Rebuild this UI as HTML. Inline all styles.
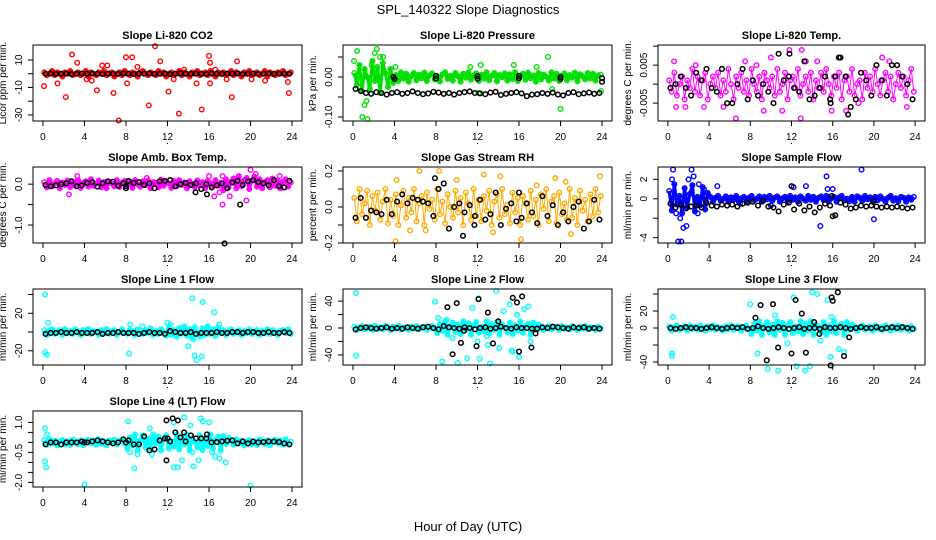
<!DOCTYPE html>
<html><head><meta charset="utf-8">
<style>
html,body{margin:0;padding:0;background:#fff;}
svg{display:block;font-family:"Liberation Sans",sans-serif;}
</style></head>
<body>
<svg id="chart" width="936" height="540" viewBox="0 0 936 540" xmlns="http://www.w3.org/2000/svg">
<text x="468" y="14" text-anchor="middle" font-size="13">SPL_140322  Slope Diagnostics</text>
<text x="468" y="531" text-anchor="middle" font-size="13">Hour of Day (UTC)</text>
</svg>
<script>
// ---------- data ----------
const xTicks=[0,4,8,12,16,20,24];

const co2Band=[1,-1,0,2,-1,1,0,-2,1,0,2,-1,0,1,-1,0,2,-2,1,0,-1,1,0,2,-1,0,1,-2,0,1,-1,2,0,-1,1,0,-2,1,2,0,-1,1,0,-1,2,0,1,-2,0,1,-1,0,2,-1,1,0,-2,1,0,2,-1,0,1,-1,2,0,-2,1,0,1,-1,0,2,-1,1,0,-2,1,0,2,-1,0,1,-1,0,2,-2,1,0,-1,1,0,2,-1,0,1];
const co2OutH=[0.1,1.4,2.2,2.8,3.3,4.2,4.7,5.2,5.7,6.2,6.8,7.3,8.0,8.1,8.6,9.1,10.2,10.8,11.3,12.1,12.6,13.1,13.6,14.8,15.3,16.0,16.1,16.1,16.6,17.7,18.2,18.7,20.1,21.4,23.6,23.7];
const co2OutV=[-9,-7,-17,14,8,-4,-5,-12,6,6,-14,-34,12,-7,12,5,-23,20,9,-13,-4,-29,3,-7,-26,13,8,-7,3,-4,-17,9,-4,-5,-6,-14];
const co2Black=[0,0.3,-0.2,0,0.2,-0.3,0,0.1,-0.1,0.2,0,-0.2,0.1,0,-0.1,0.3,0,-0.2,0.1,0,0.2,-0.1,0,0.1,-0.3,0,0.2,0,-0.1,0.1,0,-0.2,0.2,0,-0.1,0.1,0,0.3,-0.2,0,0.1,-0.1,0,0.2,-0.1,0,0.1,0];
const co2BlkH=[];const co2BlkV=[];

const presBand=[0.01,-0.02,0.03,-0.035,0.02,0,-0.03,0.04,-0.01,0.025,-0.04,0.035,0.01,-0.025,0.02,-0.015,
0.005,-0.01,0.012,-0.004,0.008,-0.012,0.002,0.01,-0.008,0.006,-0.003,0.011,-0.01,0.004,0.009,-0.006,0.001,-0.011,0.007,0.012,-0.005,0.003,-0.009,0.01,0.002,-0.012,0.008,-0.002,0.011,-0.007,0.004,0.009,-0.01,0.006,-0.004,0.012,-0.008,0.003,0.01,-0.011,0.005,-0.001,0.009,-0.009,0.007,-0.005,0.012,-0.01,0.002,0.008,-0.007,0.011,-0.003,0.004,-0.012,0.01,-0.006,0.006,0.001,-0.009,0.012,-0.004,0.008,-0.01,0.003,0.009,-0.008,0.005,-0.002,0.011,-0.011,0.007,0.002,-0.006,0.01,-0.004,0.008,-0.009,0.004,0.006];
const presOutH=[0.1,0.4,0.9,1.1,1.3,1.4,2.3,1.8,2.6,2.1,2.9,4.1,11.3,12.1,12.3,15.5,17.7,18.8,19.2,20.0,23.9];
const presOutV=[0.04,0.065,-0.1,-0.07,-0.06,-0.105,0.07,0.03,0.05,0.06,0.05,0.025,0.025,-0.04,0.03,0.03,0.025,0.05,-0.03,-0.08,-0.035];
const presBlack=[-0.03,-0.035,-0.04,-0.042,-0.038,-0.04,-0.044,-0.04,-0.038,-0.042,-0.04,-0.036,-0.04,-0.043,-0.041,-0.037,-0.039,-0.042,-0.04,-0.044,-0.04,-0.038,-0.036,-0.04,-0.041,-0.043,-0.039,-0.037,-0.045,-0.042,-0.04,-0.038,-0.041,-0.048,-0.044,-0.043,-0.04,-0.042,-0.039,-0.044,-0.046,-0.04,-0.038,-0.043,-0.041,-0.039,-0.042,-0.04];
const presBlkH=[3.9,4,8,8,12,12,16,16,20,20,24,24];
const presBlkV=[0,-0.005,0.003,-0.004,0.002,-0.004,0.003,-0.003,0,-0.005,-0.003,-0.012];

const tempBand=[0.001,-0.002,0.003,-0.003,0,0.002,-0.004,0.001,-0.001,0.004,-0.002,0.002,-0.003,0.001,0.003,-0.004,0,0.002,-0.001,0.003,-0.003,0.001,-0.002,0.004,0,-0.004,0.002,-0.001,0.003,-0.002,0.001,-0.003,0.004,0,-0.002,0.002,-0.004,0.003,0.001,-0.001,0.002,-0.003,0.004,-0.002,0,0.003,-0.004,0.001,0.002,-0.001,0.004,-0.003,0,0.002,-0.002,0.003,-0.004,0.001,-0.001,0.003,-0.002,0.004,0,-0.003,0.002,-0.001,0.003,-0.004,0.001,0.002,-0.002,0.004,-0.003,0,0.001,-0.004,0.003,-0.001,0.002,-0.002,0.004,0,-0.003,0.001,0.003,-0.002,0.002,-0.004,0,0.003,-0.001,0.002,-0.003,0.001,0.004,-0.002];
const tempOutH=[11.8,13.0,6.6,12.9,10.0,20.8,9.3,11.1,15.9,17.3,0.6,7.5,13.4,14.5,21.5,0.8,1.7,3.5,5.4,23.2,2.7,18.5,8.6];
const tempOutV=[0.009,0.009,-0.009,-0.009,0.007,0.007,-0.007,-0.007,-0.007,-0.007,0.006,0.006,0.006,0.006,0.006,-0.006,-0.006,-0.006,-0.006,-0.006,0.005,-0.005,0.005];
const tempBlack=[-0.001,0,0.002,-0.001,-0.003,0.003,0.001,0.004,-0.001,-0.002,0.004,-0.005,-0.005,0,0.004,-0.004,0.001,-0.003,0,-0.002,-0.005,0.008,0.001,0.002,-0.001,-0.002,0.006,-0.004,-0.003,-0.001,0.002,-0.004,0.002,0.007,0.002,-0.006,-0.004,0.003,0.001,-0.003,0.005,0.001,-0.003,0.005,0.005,0.002,0,-0.004];
const tempBlkH=[11.8,15.8,16.6,17.5];const tempBlkV=[0.008,-0.005,0.007,-0.008];

const ambBand=[0.05,-0.08,0.1,-0.05,0.02,0.08,-0.1,0.04,-0.02,0.09,-0.07,0.06,-0.03,0.1,-0.09,0.03,0.07,-0.06,0.12,-0.04,0.01,0.09,-0.08,0.05,-0.1,0.06,0.02,-0.05,0.1,-0.07,0.04,0.08,-0.03,0.06,-0.09,0.1,0,-0.06,0.07,-0.02,0.09,-0.1,0.05,0.03,-0.08,0.11,-0.04,0.06,0.02,-0.09,0.08,-0.05,0.1,-0.02,0.04,-0.1,0.07,0.01,-0.07,0.09,-0.03,0.05,-0.1,0.08,0.02,-0.06,0.1,-0.04,0.03,-0.15,0.12,-0.08,0.06,0.14,-0.1,0.2,-0.05,0.1,0.15,-0.12,0.08,0.18,-0.06,0.12,-0.1,0.05,0.1,-0.08,0.14,-0.04,0.08,-0.1,0.06,0.12,-0.06,0.04];
const ambOutH=[3.3,2.5,10.0,16.0,17.3,17.3,18.0,19.6,20.0,20.5,16.5,17.0,22.8];
const ambOutV=[0.2,-0.25,0.15,0.2,0.2,-0.5,-0.3,-0.4,0.35,0.25,-0.3,-0.2,0.2];
const ambBlack=[-0.02,-0.05,-0.03,0,0.02,0.07,-0.05,-0.03,0.03,0.05,-0.06,0.02,0.07,0.06,-0.04,0.02,0.08,0.03,0.05,-0.02,0.02,-0.1,0.07,0.08,0.1,-0.05,0,0.03,-0.02,0.02,-0.12,0,-0.08,-0.03,0.02,-0.1,0.04,0.08,-0.02,0.07,0.1,0.05,0.02,-0.03,0.1,-0.05,-0.08,0.08];
const ambBlkH=[17.5,19.0,15.8,14.7,8.0,8.0];const ambBlkV=[-1.45,-0.5,-0.25,-0.2,-0.05,-0.1];

const rhBand=[0.05,-0.08,0.1,-0.04,0.02,0.09,-0.1,0.06,-0.02,0.08,-0.07,0.03,0.1,-0.09,0.04,-0.05,0.07,-0.1,0.01,0.09,-0.06,0.05,-0.03,0.1,-0.08,0.02,0.06,-0.1,0.08,-0.01,0.04,-0.07,0.1,-0.04,0.03,-0.09,0.07,0,-0.06,0.09,-0.03,0.05,-0.1,0.08,0.02,-0.07,0.1,-0.05,0.04,-0.08,0.06,-0.02,0.09,-0.1,0.03,0.07,-0.06,0.1,-0.04,0.01,-0.09,0.08,-0.03,0.05,-0.1,0.06,0.02,-0.07,0.09,-0.05,0.04,-0.1,0.07,-0.01,0.1,-0.08,0.03,0.06,-0.09,0.08,-0.04,0.02,-0.07,0.1,-0.06,0.05,-0.1,0.09,-0.02,0.04,-0.08,0.07,-0.05,0.1,-0.03,0.06];
const rhOutH=[4.1,4.2,6.4,7.0,8.3,12.6,14.2,16.2,17.7,19.5,20.5,23.8,5.5,10.0,13.5,21.0];
const rhOutV=[-0.19,0.15,0.2,-0.13,0.2,0.18,0.17,-0.18,0.12,0.16,0.14,0.17,-0.13,0.15,-0.14,-0.15];
const rhBlack=[-0.06,0.05,-0.06,-0.02,-0.03,-0.04,0.04,-0.04,0.03,0.07,0.02,0.05,0.04,0.03,0.02,-0.05,0.1,0.13,-0.12,0,0.02,-0.03,0.01,-0.05,0.04,-0.07,-0.04,0.08,-0.1,-0.01,0.02,-0.08,-0.06,0.02,-0.03,-0.09,0.06,-0.05,0.01,-0.1,-0.03,-0.08,0,0.03,-0.12,-0.08,0.04,-0.07];
const rhBlkH=[10.6,7.9,16.0,11.7];const rhBlkV=[-0.16,0.16,0.08,-0.1];

const flowBand=[0.8,-1.2,1.5,-0.6,0.3,-1.5,1.1,-0.9,0.5,1.4,-1.3,0.2,-0.7,1.2,-1.1,0.6,
0.2,-0.3,0.1,0.3,-0.2,0,0.25,-0.3,0.15,-0.1,0.3,-0.25,0.05,0.2,-0.3,0.1,0.3,-0.15,0,0.25,-0.3,0.2,-0.05,0.3,-0.2,0.1,0.25,-0.3,0.05,0.2,-0.25,0.3,-0.1,0.15,-0.3,0.25,0,-0.2,0.3,-0.1,0.2,-0.3,0.1,0.25,-0.15,0.3,-0.25,0.05,0.2,-0.3,0.15,0.3,-0.1,0,-0.25,0.2,-0.3,0.25,0.1,-0.2,0.3,-0.05,0.15,-0.3,0.2,-0.15,0.25,0,-0.3,0.1,0.3,-0.2,0.05,-0.25,0.2,0.1,-0.3,0.15,-0.1,0.2];
const flowOutH=[0.4,0.5,1.0,1.3,1.5,1.8,2.3,2.5,3.0,2.9,4.8,7.0,12.2,13.4,15.4,15.5,14.8,16.0,18.8,20.0,10.0,2.0,1.2,0.8,3.5];
const flowOutV=[2,3,-4.4,-4.4,-3,-2.8,3,2.3,1.5,-1.5,1.3,-0.5,1.2,1.3,2.3,1,-2.8,1,3,-2.1,-0.7,2,-2,-1.5,1];
const flowBlack=[-0.5,-0.9,-0.6,-1,-0.8,-0.7,-0.9,-0.4,-0.7,-0.8,-0.6,-0.7,-0.6,-0.8,-0.5,-0.4,-0.3,-0.7,-0.2,-0.8,-0.9,-1.3,-0.6,-0.4,-1.1,-0.5,-1.2,-0.8,-1.4,-0.9,-0.5,-0.7,-1.7,-0.4,-0.6,-1,-0.9,-0.7,-0.8,-0.7,-0.8,-0.9,-0.8,-0.9,-0.8,-0.9,-1,-0.9];
const flowBlkH=[12.0,16.0,15.9,20.0];const flowBlkV=[1.3,-1.8,0.3,-0.2];

const l1Band=[2,-3,1,3,-2,0,2,-3,3,-1,1,-2,3,0,-3,2,-1,3,-2,1,0,-3,2,-1,3,-2,1,2,-3,0,3,-1,-2,2,1,-3,3,0,-2,2,-1,4,-3,1,-2,3,0,-4,5,-3,2,-5,4,-2,6,-4,3,-6,5,-1,-5,4,-3,6,-2,3,-4,5,-1,2,-3,1,3,-2,0,2,-3,1,-1,3,-2,0,2,-3,1,-1,3,-2,2,0,-3,1,2,-1,3,-2];
const l1OutH=[0.2,0.2,0.4,0.5,8.3,8.4,9.6,12.0,14.4,14.6,14.8,15.3,15.4,14.0,16.5,17.0,14.5,13.5,12.3];
const l1OutV=[40,-22,-24,10,-23,8,6,10,36,-25,-30,-26,32,-15,21,8,-8,5,8];
const l1Black=[-2,-1,-1,0,-1,-1,0,-1,-1,-1,0,-2,-1,-1,0,-1,-1,-1,-2,-1,0,-1,-1,-2,1,0,-1,-1,0,-2,-1,-1,-1,0,-1,-1,0,0,-1,0,0,-1,-1,0,-1,-1,0,-1];
const l1BlkH=[];const l1BlkV=[];

const l2Band=[2,-3,1,3,-2,0,2,-3,3,-1,1,-2,3,0,-3,2,-1,3,-2,1,0,-3,2,-1,3,-2,1,2,-3,0,3,-1,
-8,6,-4,10,-10,3,8,-6,5,-9,10,-2,7,-10,4,9,-7,2,-5,10,-8,6,-3,9,-10,5,1,-6,8,-9,4,-4,10,-7,3,6,-10,8,-2,5,
2,-3,1,3,-2,0,2,-3,3,-1,1,-2,3,0,-3,2,-1,3,-2,1,0,-3,2,-1];
const l2OutH=[0.3,0.3,7.9,8.6,9.0,10.1,11.0,12.1,12.2,13.2,13.8,14.1,15.1,15.3,15.4,16.0,16.9,17.1,12.0,11.5,13.0,14.5,16.5,8.2,9.6,12.9,15.8];
const l2OutV=[52,-41,39,-50,12,-52,-45,44,-46,-53,55,-30,35,-34,-35,-43,32,-20,-20,30,-25,25,28,15,-15,-12,20];
const l2Black=[-2,0,1,0,-1,0,1,-1,0,-1,1,0,-1,1,2,0,-2,3,1,0,-1,1,0,-2,0,1,-1,0,2,0,-1,1,0,0,-1,-1,1,0,2,1,0,-1,1,0,1,-1,0,-1];
const l2BlkH=[9.1,10.0,10.4,9.6,11.9,12.1,13.0,13.5,14.0,15.4,15.8,16.0,16.3,17.2,17.6,10.7];
const l2BlkV=[31,37,-22,-39,-27,43,23,-23,10,45,38,-35,47,-29,-8,-4];

const l3Band=[2,-3,1,3,-2,0,2,-3,3,-1,1,-2,3,0,-3,2,-1,3,-2,1,0,-3,2,-1,3,-2,1,2,-3,0,3,-1,
-7,5,-3,8,-8,3,7,-5,4,-8,8,-2,6,-8,3,7,-6,2,-4,8,-7,5,-3,8,-8,4,1,-5,7,-8,3,-4,8,-6,3,5,-8,7,-2,4,
2,-3,1,3,-2,0,2,-3,3,-1,1,-2,3,0,-3,2,-1,3,-2,1,0,-3,2,-1];
const l3OutH=[0.4,0.4,0.5,8.0,8.7,10.7,9.7,10.4,12.2,12.5,13.3,13.8,14.0,14.5,15.8,15.5,15.9,16.6,17.1,11.6,14.8];
const l3OutV=[-30,-33,13,28,-30,-50,-48,15,36,-45,-50,-45,42,40,-34,33,13,-25,-28,-18,-15];
const l3Black=[0,-1,0,1,0,0,-1,0,1,0,-1,0,1,0,1,-1,0,2,0,-1,0,1,0,-1,0,1,-1,0,0,-1,1,0,0,1,0,-1,0,1,0,0,1,-1,0,1,0,1,0,-1];
const l3BlkH=[9.0,8.5,10.2,9.6,10.7,12.0,12.4,13.0,13.4,14.2,14.7,15.8,15.9,16.0,16.5,17.1,17.6];
const l3BlkV=[27,12,28,-38,-23,-30,33,17,-29,7,-7,-44,36,32,42,-33,-11];

const l4Band=[0.1,-0.12,0.15,-0.05,0.08,-0.15,0.02,0.12,-0.1,0.05,-0.13,0.14,0,-0.08,0.1,-0.14,0.06,0.13,-0.04,0.09,-0.12,0.15,-0.07,0.03,-0.15,0.11,-0.02,0.13,-0.1,0.07,0.14,-0.06,
-0.3,0.25,-0.15,0.4,-0.4,0.1,0.35,-0.25,0.2,-0.35,0.4,-0.05,0.3,-0.4,0.15,0.35,-0.3,0.05,-0.2,0.4,-0.35,0.25,-0.1,0.38,-0.4,0.2,0.05,-0.25,0.35,-0.38,0.15,-0.18,0.4,-0.3,0.12,0.28,-0.4,0.32,-0.08,0.22,
0.1,-0.12,0.15,-0.05,0.08,-0.15,0.02,0.12,-0.1,0.05,-0.13,0.14,0,-0.08,0.1,-0.14,0.06,0.13,-0.04,0.09,-0.12,0.15,-0.07,0.03];
const l4OutH=[0.2,0.4,0.2,0.3,4.0,8.2,8.4,8.8,9.1,10.3,10.5,12.6,12.6,13.0,13.6,14.2,14.5,14.4,15.0,15.2,15.4,16.0,16.3,16.6,17.0,17.6,20.0,13.4];
const l4OutV=[0.7,0.4,-0.95,-1.25,-2.1,1.05,-0.5,-1.3,-0.6,0.7,-0.6,1.0,-1.25,-1.25,1.25,0.85,-1.2,-0.5,-0.9,1.2,1.05,1.0,-0.5,-0.7,-0.8,-1.0,-2.15,-0.9];
const l4Black=[-0.1,0,0,-0.1,0,0,0,0.05,0,0.05,0.1,0.05,0,-0.05,0,0.15,0.1,-0.1,-0.1,0.3,-0.4,-0.35,0.1,0.2,0.05,0.5,0.25,0.05,0.35,0.2,0.2,0.2,0,0.02,0.05,0.08,0.1,-0.05,0.05,-0.05,0.04,0,0.02,0.05,0.04,0.02,-0.05,-0.1];
const l4BlkH=[11.9,12.5,13.0,11.9,13.6,12.0,15.8,4.0,8.0];
const l4BlkV=[1.1,1.2,1.1,-0.9,0.5,0.2,0.4,0,0];

// ---------- layout ----------
const colL=[33,343,658],colR=[302,612,925],rowT=[45,167,289,411],BOXH=76;
const panels=[
 {name:'co2',title:'Slope Li-820 CO2',yl:'Licor ppm per min.',r:0,c:0,y0:-34.4,y1:20.9,col:'#ff0000',bw:3.2,band:co2Band,oh:co2OutH,ov:co2OutV,blk:co2Black,bh:co2BlkH,bv:co2BlkV,ticks:[-30,-20,-10,0,10],labs:['-30','','-10','','10']},
 {name:'pressure',title:'Slope Li-820 Pressure',yl:'kPa per min.',r:0,c:1,y0:-0.11,y1:0.08,col:'#00e000',bw:3.2,band:presBand,oh:presOutH,ov:presOutV,blk:presBlack,bh:presBlkH,bv:presBlkV,ticks:[-0.1,-0.05,0,0.05],labs:['-0.10','','0.00','']},
 {name:'temp',title:'Slope Li-820 Temp.',yl:'degrees C per min.',r:0,c:2,y0:-0.0097,y1:0.0103,col:'#ff00ff',bw:1,band:tempBand,oh:tempOutH,ov:tempOutV,blk:tempBlack,bh:tempBlkH,bv:tempBlkV,ticks:[-0.005,0,0.005,0.01],labs:['-0.005','','0.005','']},
 {name:'amb-box-temp',title:'Slope Amb. Box Temp.',yl:'degrees C per min.',r:1,c:0,y0:-1.44,y1:0.42,col:'#ff00ff',bw:3.2,band:ambBand,oh:ambOutH,ov:ambOutV,blk:ambBlack,bh:ambBlkH,bv:ambBlkV,ticks:[-1,-0.5,0],labs:['-1.0','','0.0']},
 {name:'gas-rh',title:'Slope Gas Stream RH',yl:'percent per min.',r:1,c:1,y0:-0.2,y1:0.222,col:'#ffaa00',bw:1,band:rhBand,oh:rhOutH,ov:rhOutV,blk:rhBlack,bh:rhBlkH,bv:rhBlkV,ticks:[-0.2,-0.1,0,0.1,0.2],labs:['-0.2','','0.0','','0.2']},
 {name:'sample-flow',title:'Slope Sample Flow',yl:'ml/min per min.',r:1,c:2,y0:-4.55,y1:3.27,col:'#0000ff',bw:3.2,band:flowBand,oh:flowOutH,ov:flowOutV,blk:flowBlack,bh:flowBlkH,bv:flowBlkV,ticks:[-4,-2,0,2],labs:['-4','','0','2']},
 {name:'line1-flow',title:'Slope Line 1 Flow',yl:'ml/min per min.',r:2,c:0,y0:-35.2,y1:45.9,col:'#00ffff',bw:3.2,band:l1Band,oh:l1OutH,ov:l1OutV,blk:l1Black,bh:l1BlkH,bv:l1BlkV,ticks:[-20,0,20,40],labs:['-20','','20','']},
 {name:'line2-flow',title:'Slope Line 2 Flow',yl:'ml/min per min.',r:2,c:1,y0:-55,y1:58,col:'#00ffff',bw:3.2,band:l2Band,oh:l2OutH,ov:l2OutV,blk:l2Black,bh:l2BlkH,bv:l2BlkV,ticks:[-40,-20,0,20,40],labs:['-40','','0','','40']},
 {name:'line3-flow',title:'Slope Line 3 Flow',yl:'ml/min per min.',r:2,c:2,y0:-43.5,y1:45.9,col:'#00ffff',bw:3.2,band:l3Band,oh:l3OutH,ov:l3OutV,blk:l3Black,bh:l3BlkH,bv:l3BlkV,ticks:[-40,-20,0,20,40],labs:['-40','','0','20','']},
 {name:'line4-flow',title:'Slope Line 4 (LT) Flow',yl:'ml/min per min.',r:3,c:0,y0:-2.23,y1:1.57,col:'#00ffff',bw:3.2,band:l4Band,oh:l4OutH,ov:l4OutV,blk:l4Black,bh:l4BlkH,bv:l4BlkV,ticks:[-2,-1.5,-1,-0.5,0,0.5,1],labs:['-2.0','','','-0.5','','','1.0']}
];

const NS='http://www.w3.org/2000/svg';
const svg=document.getElementById('chart');
function mk(tag,attrs,parent){const e=document.createElementNS(NS,tag);for(const k in attrs)e.setAttribute(k,attrs[k]);(parent||svg).appendChild(e);return e;}

panels.forEach(p=>{
  const L=colL[p.c],R=colR[p.c],T=rowT[p.r],B=T+BOXH,W=R-L;
  const pad=W*0.04/1.08;
  const xs=h=>L+pad+(h/24)*(W-2*pad);
  const ys=v=>B-(v-p.y0)/(p.y1-p.y0)*BOXH;
  const g=mk('g',{});
  
  
  const t=mk('text',{x:(L+R)/2,y:T-6,'text-anchor':'middle','font-size':11,'font-weight':'bold'},g);
  t.textContent=p.title;
  
  
  const cx=L-27,cy=(T+B)/2;
  const yl=mk('text',{x:cx,y:cy,'text-anchor':'middle','font-size':10,transform:'rotate(-90 '+cx+' '+cy+')'},g);
  yl.textContent=p.yl;
  
  
  const pts=mk('g',{fill:'none'},g);
  
  
  const n=p.band.length;
  let d='';
  p.band.forEach((v,i)=>{d+=(i?'L':'M')+xs((i+0.5)*24/n).toFixed(1)+' '+ys(v).toFixed(1);});
  const bp=mk('path',{d:d,stroke:p.col,'stroke-width':p.bw,'stroke-linejoin':'round',fill:'none'},pts);
  
  
  p.band.forEach((v,i)=>{const c=mk('circle',{cx:xs((i+0.5)*24/n),cy:ys(v),r:2.3,stroke:p.col,'stroke-width':1.4},pts);
    
    });
  p.oh.forEach((h,i)=>{const c=mk('circle',{cx:xs(h),cy:ys(p.ov[i]),r:2.3,stroke:p.col,'stroke-width':1.4},pts);
    
    });
  const bk=mk('g',{fill:'none'},g);
  
  
  const m=p.blk.length;
  p.blk.forEach((v,i)=>{const c=mk('circle',{cx:xs((i+0.5)*24/m),cy:ys(v),r:2.3,stroke:'#000','stroke-width':1.5},bk);
    
    });
  p.bh.forEach((h,i)=>{const c=mk('circle',{cx:xs(h),cy:ys(p.bv[i]),r:2.3,stroke:'#000','stroke-width':1.5},bk);
    
    });
  const box=mk('rect',{x:L,y:T,width:W,height:BOXH,fill:'none',stroke:'#000','stroke-width':1},g);
  
  
  const xa=mk('g',{},g);
  
  
  mk('line',{x1:xs(0),x2:xs(24),y1:B,y2:B,stroke:'#000'},xa);
  xTicks.forEach(h=>{mk('line',{x1:xs(h),x2:xs(h),y1:B,y2:B+5,stroke:'#000'},xa);
    const tl=mk('text',{x:xs(h),y:B+19,'text-anchor':'middle','font-size':10},xa);tl.textContent=String(h);
    
    });
  mk('rect',{x:xs(12)-0.5,y:B+22,width:1,height:1,fill:'#000'},xa);
  const ya=mk('g',{},g);
  
  
  const tv=p.ticks.filter(v=>v>=p.y0&&v<=p.y1);
  mk('line',{x1:L,x2:L,y1:ys(Math.min(...tv)),y2:ys(Math.max(...tv)),stroke:'#000'},ya);
  p.ticks.forEach((v,i)=>{if(v<p.y0||v>p.y1)return;const y=ys(v);
    mk('line',{x1:L-5,x2:L,y1:y,y2:y,stroke:'#000'},ya);
    if(p.labs[i]){const tx=L-11;const tl=mk('text',{x:tx,y:y,'text-anchor':'middle','font-size':10,transform:'rotate(-90 '+tx+' '+y+')'},ya);tl.textContent=p.labs[i];
      
      }});
});
</script>
</body></html>
